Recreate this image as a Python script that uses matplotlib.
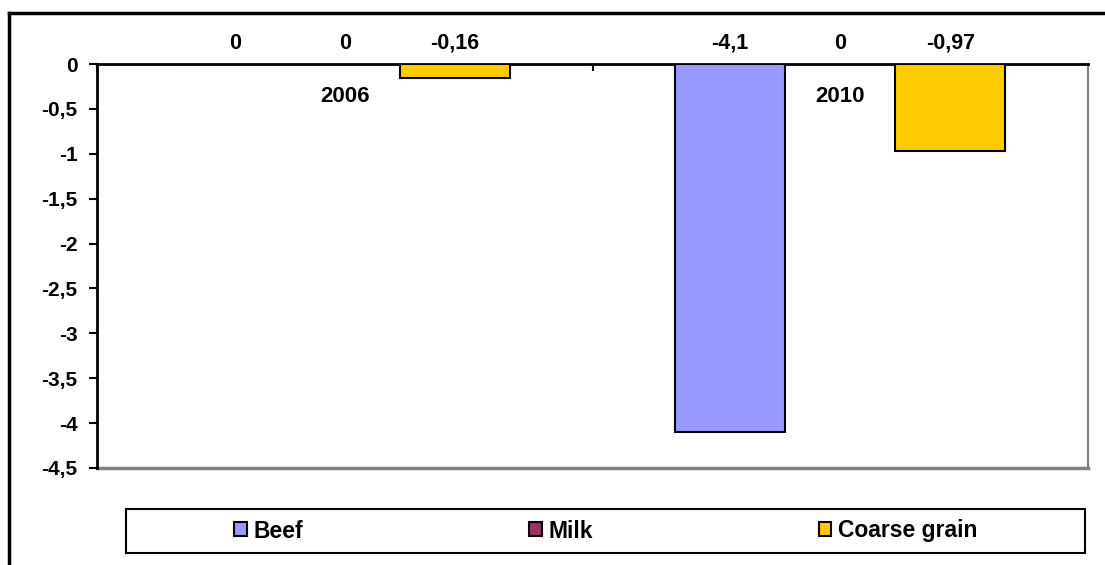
import numpy as np
import matplotlib
matplotlib.use("Agg")
from matplotlib import pyplot as plt
from matplotlib.patches import Patch, Rectangle
from matplotlib.lines import Line2D

plt.rcParams['font.family'] = ['Liberation Sans', 'DejaVu Sans']
plt.rcParams['font.weight'] = 'bold'

years = ["2006", "2010"]
series = ["Beef", "Milk", "Coarse grain"]
beef = [0, -4.1]
milk = [0, 0]
coarse_grain = [-0.16, -0.97]
colors = ["#9999FF", "#993366", "#FFCC00"]
yticks = [0, -0.5, -1, -1.5, -2, -2.5, -3, -3.5, -4, -4.5]


def fmt(v):
    return ("%g" % v).replace(".", ",")


W, H = 1105, 565
fig = plt.figure(figsize=(W / 100, H / 100), dpi=100)
ax = fig.add_axes([97 / W, 1 - 468 / H, (1088 - 97) / W, (468 - 64) / H])

x = np.arange(len(years))
bw = 1 / 4.5
for i, (name, vals) in enumerate(zip(series, [beef, milk, coarse_grain])):
    xs = x + (i - 1) * bw
    ax.bar(xs, vals, width=bw, color=colors[i], edgecolor="black",
           linewidth=1.5, label=name, zorder=3)
    for xi, v in zip(xs, vals):
        ax.annotate(fmt(v), xy=(xi, 0), xytext=(0, 15), textcoords="offset points",
                    ha="center", va="center", fontsize=15.5, fontweight="bold",
                    annotation_clip=False)

ax.set_xlim(-0.5, 1.5)
ax.set_ylim(-4.5, 0)

# axis line at zero with year labels beneath it
ax.spines["bottom"].set_position(("data", 0))
ax.spines["bottom"].set_linewidth(2)
ax.spines["top"].set_visible(False)
ax.spines["left"].set_linewidth(2)
ax.spines["right"].set_color("#808080")
ax.spines["right"].set_linewidth(1.5)
ax.axhline(-4.5, color="#808080", linewidth=2.5, clip_on=False, zorder=1)

ax.set_xticks(x)
ax.set_xticklabels(years, fontsize=16, fontweight="bold")
ax.tick_params(axis="x", which="major", length=0, pad=16)
ax.set_xticks([-0.5, 0.5, 1.5], minor=True)
ax.tick_params(axis="x", which="minor", length=5, width=1.5, direction="out")

ax.set_yticks(yticks)
ax.set_yticklabels([fmt(v) for v in yticks], fontsize=15, fontweight="bold")
ax.tick_params(axis="y", length=6, width=1.5, pad=8)

# legend box
fig.patches.append(Rectangle((126 / W, 1 - 553 / H), (1085 - 126) / W, 44 / H,
                             transform=fig.transFigure, facecolor="none",
                             edgecolor="black", linewidth=1.5))
handles = [Patch(facecolor=c, edgecolor="black", linewidth=1.5) for c in colors]
fig.legend(handles, series, loc="center", bbox_to_anchor=(606 / W, 1 - 531 / H),
           ncol=3, frameon=False, prop={"size": 16.5, "weight": "bold"},
           handlelength=0.55, handleheight=0.55, handletextpad=0.3,
           columnspacing=9.85)

# outer chart border
fig.add_artist(Line2D([9 / W, 9 / W], [0, 1 - 13 / H], color="black", linewidth=2.5))
fig.add_artist(Line2D([9 / W, 1], [1 - 13 / H, 1 - 13 / H], color="black", linewidth=2.5))

fig.savefig("out.png", dpi=100)
